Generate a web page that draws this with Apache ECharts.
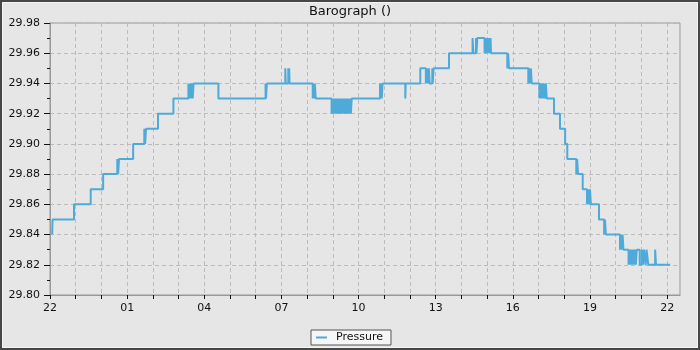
<!DOCTYPE html>
<html><head><meta charset="utf-8">
<script src="https://cdn.jsdelivr.net/npm/echarts@6/dist/echarts.min.js"></script>
<style>
html,body{margin:0;padding:0;background:#e6e6e6}
#c{width:700px;height:350px;position:absolute;left:0;top:0}
#frame{position:absolute;left:0;top:0;width:700px;height:350px;box-sizing:border-box;border:2px solid #474747;box-shadow:inset 0 0 0 1px #f4f4f4;pointer-events:none}
</style></head>
<body><div id="c"></div><div id="frame"></div>
<script>
const titleText = 'Barograph ()';
const seriesName = 'Pressure';
const tickLabels = ['22','01','04','07','10','13','16','19','22'];
const times = [
 '22:05','22:06','22:56','23:35','00:04','00:37','00:39','00:41','01:14','01:40',
 '01:42','01:44','02:12','02:48','03:23','03:25','03:27','03:29','03:31','03:33',
 '03:35','04:33','06:23','06:24','06:26','07:09','07:10','07:16','07:17','07:18',
 '07:19','08:13','08:14','08:16','08:18','08:20',
 '08:57','08:58','08:59','09:00','09:01','09:02','09:03','09:06','09:07','09:08',
 '09:09','09:10','09:11','09:13','09:14','09:15','09:16','09:18','09:19','09:20',
 '09:21','09:23','09:24','09:26','09:27','09:29','09:30','09:32','09:33','09:35',
 '09:36','09:38','09:39','09:41','09:42','09:44',
 '10:50','10:51','10:53','10:54','10:56','11:49','11:50','12:24',
 '12:37','12:38','12:39','12:40','12:42','12:44','12:46','12:52','12:53','12:55',
 '13:31','14:26','14:28','14:34','14:35','14:37','14:54','14:56','14:58','15:00',
 '15:02','15:04','15:06','15:08','15:09','15:47','15:49','15:51','16:36','16:38',
 '16:40','16:42','16:44','17:02','17:04','17:06','17:08','17:10','17:12','17:14',
 '17:17','17:19','17:36','17:50','18:02','18:07','18:28','18:30','18:32','18:43',
 '18:53','18:56','18:58','19:00','19:02','19:21','19:33','19:35','19:37','20:10',
 '20:12','20:14','20:16','20:18','20:30','20:32','20:34','20:36','20:38','20:40',
 '20:42','20:44','20:47','20:49','20:56','21:01','21:04','21:06','21:10','21:12',
 '21:16','21:32','21:34','22:07'
];
const pressure = [
 29.84,29.85,29.86,29.87,29.88,29.89,29.88,29.89,29.90,29.91,
 29.90,29.91,29.92,29.93,29.94,29.93,29.94,29.93,29.94,29.93,
 29.94,29.93,29.94,29.93,29.94,29.95,29.94,29.95,29.94,29.95,
 29.94,29.93,29.94,29.93,29.94,29.93,
 29.92,29.93,29.92,29.93,29.92,29.93,29.92,29.93,29.92,29.93,
 29.92,29.93,29.92,29.93,29.92,29.93,29.92,29.93,29.92,29.93,
 29.92,29.93,29.92,29.93,29.92,29.93,29.92,29.93,29.92,29.93,
 29.92,29.93,29.92,29.93,29.92,29.93,
 29.94,29.93,29.94,29.93,29.94,29.93,29.94,29.95,
 29.94,29.95,29.94,29.95,29.94,29.95,29.94,29.95,29.94,29.95,
 29.96,29.97,29.96,29.97,29.96,29.97,29.96,29.97,29.96,29.97,
 29.96,29.97,29.96,29.97,29.96,29.95,29.96,29.95,29.94,29.95,
 29.94,29.95,29.94,29.93,29.94,29.93,29.94,29.93,29.94,29.93,
 29.94,29.93,29.92,29.91,29.90,29.89,29.88,29.89,29.88,29.87,
 29.86,29.87,29.86,29.87,29.86,29.85,29.84,29.85,29.84,29.83,
 29.84,29.83,29.84,29.83,29.82,29.83,29.82,29.83,29.82,29.83,
 29.82,29.83,29.82,29.83,29.82,29.83,29.82,29.83,29.82,29.83,
 29.82,29.83,29.82,29.82
];

// hours elapsed since 22:00
let prev = -1;
const data = times.map((t, i) => {
  const [h, m] = t.split(':').map(Number);
  let off = ((h - 22 + 24) % 24) + m / 60;
  if (off < prev) off += 24;
  prev = off;
  return [off, pressure[i]];
});

const hourTicks = [];
for (let i = 0; i <= 24; i++) hourTicks.push(i);
const labelTicks = tickLabels.map((_, i) => i * 3);

const chart = echarts.init(document.getElementById('c'), null, {renderer: 'canvas'});
const font = 'DejaVu Sans';
chart.setOption({
  backgroundColor: '#e6e6e6',
  animation: false,
  title: {
    text: titleText, left: 'center', top: 0,
    textStyle: {fontFamily: font, fontSize: 13, fontWeight: 'normal', color: '#111'}
  },
  legend: {
    left: 311, top: 330,
    padding: [2, 8, 2, 5],
    backgroundColor: '#f6f6f6', borderColor: '#555', borderWidth: 1, borderRadius: 0,
    itemWidth: 11, itemHeight: 2, icon: 'rect',
    textStyle: {fontFamily: font, fontSize: 11, color: '#111', padding: [0, 0, 0, 4]},
    data: [seriesName]
  },
  grid: {
    left: 50, right: 20, top: 23, bottom: 55, show: true,
    borderColor: '#999', borderWidth: 1, backgroundColor: 'transparent'
  },
  xAxis: {
    type: 'value', min: 0, max: 24.5, interval: 3,
    axisLine: {show: true, lineStyle: {color: '#999'}},
    axisTick: {show: true, length: 4, customValues: hourTicks, lineStyle: {color: '#111'}},
    axisLabel: {
      customValues: labelTicks, margin: 8,
      fontFamily: font, fontSize: 11, color: '#111',
      formatter: v => tickLabels[Math.round(v / 3)] || ''
    },
    splitLine: {show: true, lineStyle: {color: '#bbb', type: [4, 3]}}
  },
  yAxis: {
    type: 'value', min: 29.80, max: 29.98, interval: 0.02,
    axisLine: {show: true, lineStyle: {color: '#999'}},
    axisTick: {show: true, length: 6, lineStyle: {color: '#111'}},
    minorTick: {show: true, splitNumber: 2, length: 3, lineStyle: {color: '#111'}},
    axisLabel: {
      margin: 10, fontFamily: font, fontSize: 11, color: '#111',
      formatter: v => v.toFixed(2)
    },
    splitLine: {show: true, lineStyle: {color: '#bbb', type: [4, 3]}}
  },
  series: [{
    name: seriesName, type: 'line', step: 'end', data: data,
    showSymbol: false, symbol: 'none',
    lineStyle: {color: '#4eaad9', width: 2},
    itemStyle: {color: '#4eaad9'}
  }]
});
</script>
</body></html>
